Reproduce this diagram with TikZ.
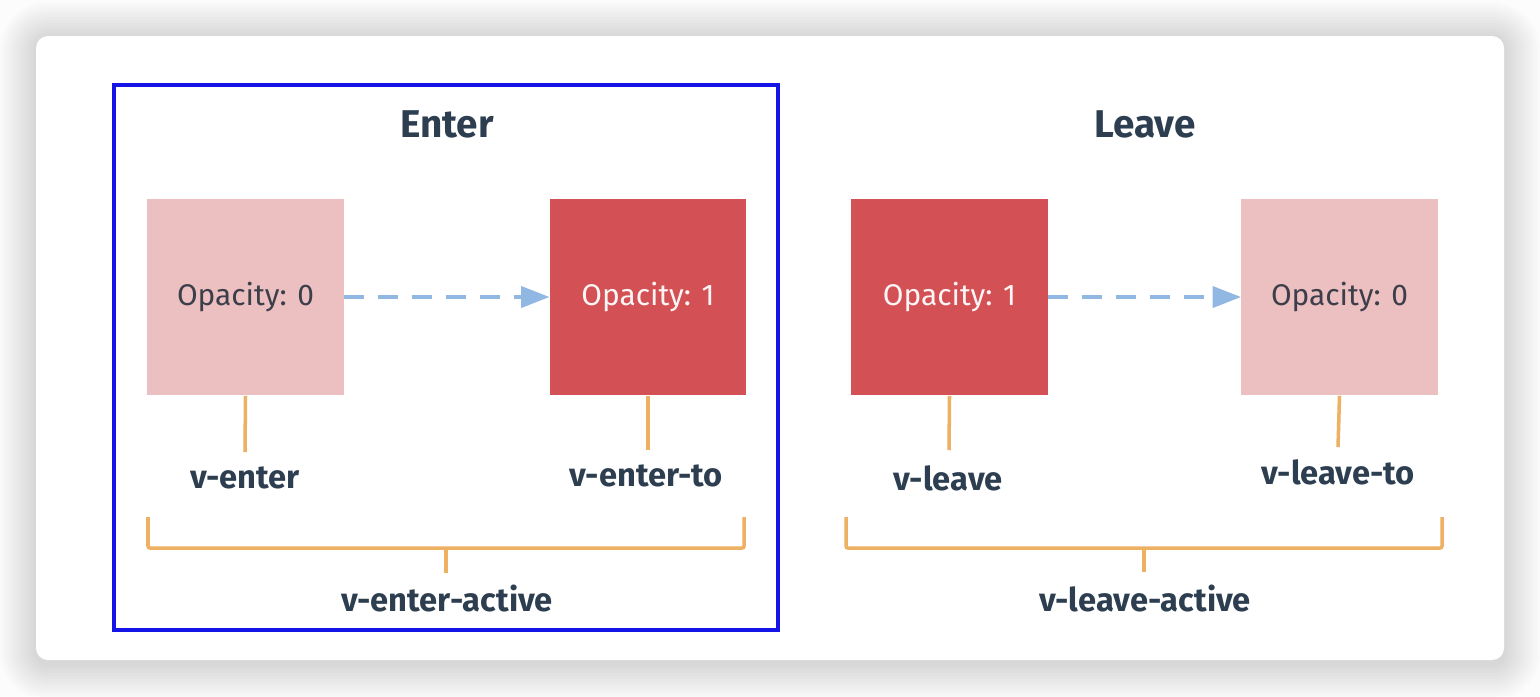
\documentclass[tikz,border=0pt]{standalone}
\usepackage{fontspec}
\setmainfont{Fira Sans}
\usetikzlibrary{arrows.meta, positioning}
\definecolor{vred}{HTML}{D35055}
\definecolor{vpink}{HTML}{ECBFC0}
\definecolor{vblue}{HTML}{90B8E3}
\definecolor{vorange}{HTML}{EEB062}
\definecolor{vdark}{HTML}{2C3E50}
\definecolor{vgray}{HTML}{3C3F4A}
\definecolor{vframe}{HTML}{1414E6}

\begin{document}
\begin{tikzpicture}[x=0.01cm, y=-0.01cm,
    faded/.style = {fill=vpink, minimum size=1.96cm, inner sep=0pt, text=vgray, font=\fontsize{8.5}{10}\selectfont},
    strong/.style = {fill=vred, minimum size=1.96cm, inner sep=0pt, text=white!94!vred, font=\fontsize{8.5}{10}\selectfont},
    head/.style = {text=vdark, font=\fontsize{11}{13}\selectfont\bfseries},
    lbl/.style = {text=vdark, font=\fontsize{9.3}{11}\selectfont\bfseries},
    flow/.style = {color=vblue, line width=1.15pt, dash pattern=on 0.2cm off 0.14cm, -{Triangle[length=0.28cm, width=0.22cm, line width=0pt, fill=vblue]}},
    link/.style = {draw=vorange, line width=1pt, rounded corners=0.02cm}]
    \useasboundingbox (0,0) rectangle (1540,696);
    \fill[white!99!black] (0,0) rectangle (1540,696);
    % card with soft shadow
    \foreach \i in {1,...,12}
        \fill[black, opacity=0.011, rounded corners=0.12cm+\i*0.03cm] (36-\i*3,38-\i*3) rectangle (1504+\i*3,664+\i*3);
    \fill[white, rounded corners=0.12cm] (36,36) rectangle (1504,660);
    \draw[vframe, line width=1pt] (114,85) rectangle (778,630);

    \node[head] (enter) at (447,124) {Enter};
    \node[head] (leave) at (1145,124) {Leave};

    \node[faded]  (e0) at (245.5,297) {Opacity: 0};
    \node[strong] (e1) at (648,297)   {Opacity: 1};
    \node[strong] (l1) at (949.5,297) {Opacity: 1};
    \node[faded]  (l0) at (1339.5,297) {Opacity: 0};

    \node[lbl] (venter)   at (245,478)  {v-enter};
    \node[lbl] (venterto) at (646,476)  {v-enter-to};
    \node[lbl] (vleave)   at (948,478)  {v-leave};
    \node[lbl] (vleaveto) at (1338,472) {v-leave-to};
    \node[lbl] (venteractive) at (447,598)  {v-enter-active};
    \node[lbl] (vleaveactive) at (1145,598) {v-leave-active};

    \coordinate (t0) at (245,452);
    \coordinate (t1) at (648,450);
    \coordinate (t2) at (949,450);
    \coordinate (t3) at (1338,447);
    \coordinate (ea) at (148,517);
    \coordinate (eb) at (744,517);
    \coordinate (em) at (446,548);
    \coordinate (la) at (846,517);
    \coordinate (lb) at (1442,517);
    \coordinate (lm) at (1144,548);

    \path[flow]
    (e0) edge (e1)
    (l1) edge (l0);

    \path[link]
    (e0.south) edge (t0)
    (e1.south) edge (t1)
    (l1.south) edge (t2)
    (l0.south) edge (t3)
    (em) edge (446,573)
    (lm) edge (1144,572);
    \draw[link] (ea) -- ++(0,31) -| (eb);
    \draw[link] (la) -- ++(0,31) -| (lb);
\end{tikzpicture}
\end{document}
